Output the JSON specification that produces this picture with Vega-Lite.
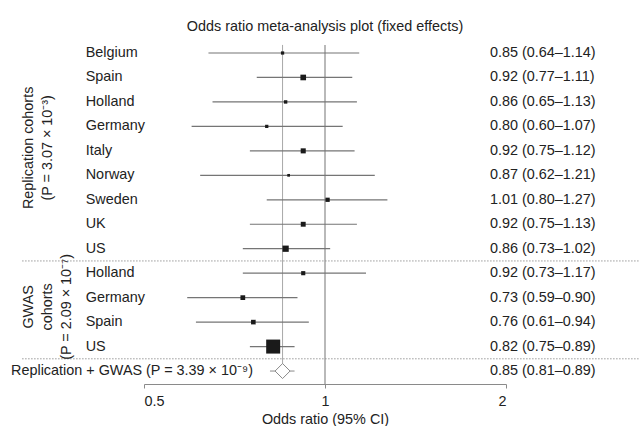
{
  "$schema": "https://vega.github.io/schema/vega-lite/v6.json",
  "autosize": "none",
  "width": 362,
  "height": 344,
  "padding": {"left": 144, "top": 40, "right": 133, "bottom": 42},
  "background": "white",
  "title": {"text": "Odds ratio meta-analysis plot (fixed effects)", "fontSize": 14.4, "fontWeight": "normal", "font": "Liberation Sans", "color": "#222", "offset": 6, "frame": "group", "anchor": "middle"},
  "datasets": {
    "studies": [
      {"row": 1, "group": "rep", "label": "Belgium", "or": 0.85, "lo": 0.64, "hi": 1.14, "weight": 46, "ci": "0.85 (0.64–1.14)"},
      {"row": 2, "group": "rep", "label": "Spain", "or": 0.92, "lo": 0.77, "hi": 1.11, "weight": 115, "ci": "0.92 (0.77–1.11)"},
      {"row": 3, "group": "rep", "label": "Holland", "or": 0.86, "lo": 0.65, "hi": 1.13, "weight": 50, "ci": "0.86 (0.65–1.13)"},
      {"row": 4, "group": "rep", "label": "Germany", "or": 0.80, "lo": 0.60, "hi": 1.07, "weight": 46, "ci": "0.80 (0.60–1.07)"},
      {"row": 5, "group": "rep", "label": "Italy", "or": 0.92, "lo": 0.75, "hi": 1.12, "weight": 96, "ci": "0.92 (0.75–1.12)"},
      {"row": 6, "group": "rep", "label": "Norway", "or": 0.87, "lo": 0.62, "hi": 1.21, "weight": 34, "ci": "0.87 (0.62–1.21)"},
      {"row": 7, "group": "rep", "label": "Sweden", "or": 1.01, "lo": 0.80, "hi": 1.27, "weight": 72, "ci": "1.01 (0.80–1.27)"},
      {"row": 8, "group": "rep", "label": "UK", "or": 0.92, "lo": 0.75, "hi": 1.13, "weight": 91, "ci": "0.92 (0.75–1.13)"},
      {"row": 9, "group": "rep", "label": "US", "or": 0.86, "lo": 0.73, "hi": 1.02, "weight": 137, "ci": "0.86 (0.73–1.02)"},
      {"row": 10, "group": "gwas", "label": "Holland", "or": 0.92, "lo": 0.73, "hi": 1.17, "weight": 69, "ci": "0.92 (0.73–1.17)"},
      {"row": 11, "group": "gwas", "label": "Germany", "or": 0.73, "lo": 0.59, "hi": 0.90, "weight": 86, "ci": "0.73 (0.59–0.90)"},
      {"row": 12, "group": "gwas", "label": "Spain", "or": 0.76, "lo": 0.61, "hi": 0.94, "weight": 82, "ci": "0.76 (0.61–0.94)"},
      {"row": 13, "group": "gwas", "label": "US", "or": 0.82, "lo": 0.75, "hi": 0.89, "weight": 524, "ci": "0.82 (0.75–0.89)"}
    ],
    "summary": [
      {"row": 14, "label": "Replication + GWAS (P = 3.39 × 10⁻⁹)", "or": 0.85, "lo": 0.81, "hi": 0.89, "ci": "0.85 (0.81–0.89)"}
    ],
    "groups": [
      {"group": "rep", "title": "Replication cohorts\n(P = 3.07 × 10⁻³)"},
      {"group": "gwas", "title": "GWAS\ncohorts\n(P = 2.09 × 10⁻⁷)"}
    ],
    "separators": [{"between": 9.5}, {"between": 13.5}]
  },
  "layer": [
    {
      "data": {"name": "separators"},
      "mark": {"type": "rule", "color": "#9a9a9a", "strokeWidth": 1, "strokeDash": [1.5, 1.5]},
      "encoding": {
        "y": {"field": "between", "type": "quantitative", "scale": {"domain": [0.4685, 14.53], "reverse": true, "nice": false, "zero": false}},
        "x": {"datum": 0.3135, "type": "quantitative"},
        "x2": {"datum": 3.33}
      }
    },
    {
      "data": {"name": "summary"},
      "mark": {"type": "rule", "color": "#8a8a8a", "strokeWidth": 1.2},
      "encoding": {
        "x": {"datum": 1, "type": "quantitative"},
        "y": {"datum": 0.67, "type": "quantitative"},
        "y2": {"datum": 14.53}
      }
    },
    {
      "data": {"name": "summary"},
      "mark": {"type": "rule", "color": "#a8a8a8", "strokeWidth": 1},
      "encoding": {
        "x": {"field": "or", "type": "quantitative"},
        "y": {"field": "row", "type": "quantitative"},
        "y2": {"datum": 0.67}
      }
    },
    {
      "data": {"name": "studies"},
      "mark": {"type": "rule", "color": "#757575", "strokeWidth": 1.2},
      "encoding": {
        "x": {
          "field": "lo", "type": "quantitative",
          "scale": {"type": "log", "domain": [0.5, 2], "nice": false},
          "axis": {
            "values": [0.5, 1, 2], "format": "~g", "tickSize": 4, "domainColor": "#8a8a8a", "tickColor": "#8a8a8a",
            "labelFontSize": 14.4, "labelFont": "Liberation Sans", "labelColor": "#222", "labelPadding": 6,
            "title": "Odds ratio (95% CI)", "titleFontSize": 14.4, "titleFont": "Liberation Sans", "titleFontWeight": "normal",
            "titleColor": "#222", "titlePadding": 5, "grid": false
          }
        },
        "x2": {"field": "hi"},
        "y": {"field": "row", "type": "quantitative"}
      }
    },
    {
      "data": {"name": "summary"},
      "mark": {"type": "rule", "color": "#8a8a8a", "strokeWidth": 1},
      "encoding": {
        "x": {"field": "lo", "type": "quantitative"},
        "x2": {"field": "hi"},
        "y": {"field": "row", "type": "quantitative"}
      }
    },
    {
      "data": {"name": "studies"},
      "mark": {"type": "point", "shape": "square", "filled": true, "color": "#1a1a1a", "opacity": 1},
      "encoding": {
        "x": {"field": "or", "type": "quantitative"},
        "y": {"field": "row", "type": "quantitative"},
        "size": {"field": "weight", "type": "quantitative", "scale": {"type": "pow", "exponent": 1.2, "domain": [0, 524], "range": [0, 196]}, "legend": null}
      }
    },
    {
      "data": {"name": "summary"},
      "mark": {"type": "point", "shape": "diamond", "filled": true, "fill": "white", "stroke": "#8a8a8a", "strokeWidth": 1, "size": 225, "opacity": 1},
      "encoding": {
        "x": {"field": "or", "type": "quantitative"},
        "y": {"field": "row", "type": "quantitative"}
      }
    },
    {
      "data": {"name": "studies"},
      "mark": {"type": "text", "align": "left", "baseline": "middle", "font": "Liberation Sans", "fontSize": 14.4, "color": "#222"},
      "encoding": {
        "x": {"datum": 0.4, "type": "quantitative"},
        "y": {"field": "row", "type": "quantitative"},
        "text": {"field": "label"}
      }
    },
    {
      "data": {"name": "studies"},
      "mark": {"type": "text", "align": "left", "baseline": "middle", "font": "Liberation Sans", "fontSize": 14.4, "color": "#222"},
      "encoding": {
        "x": {"datum": 1.881, "type": "quantitative"},
        "y": {"field": "row", "type": "quantitative"},
        "text": {"field": "ci"}
      }
    },
    {
      "data": {"name": "summary"},
      "mark": {"type": "text", "align": "left", "baseline": "middle", "font": "Liberation Sans", "fontSize": 14.4, "color": "#222"},
      "encoding": {
        "x": {"datum": 1.881, "type": "quantitative"},
        "y": {"field": "row", "type": "quantitative"},
        "text": {"field": "ci"}
      }
    },
    {
      "data": {"name": "summary"},
      "mark": {"type": "text", "align": "left", "baseline": "middle", "font": "Liberation Sans", "fontSize": 14.4, "color": "#222"},
      "encoding": {
        "x": {"datum": 0.3005, "type": "quantitative"},
        "y": {"field": "row", "type": "quantitative"},
        "text": {"field": "label"}
      }
    },
    {
      "data": {"name": "studies"},
      "transform": [
        {"aggregate": [{"op": "mean", "field": "row", "as": "mid"}], "groupby": ["group"]},
        {"lookup": "group", "from": {"data": {"name": "groups"}, "key": "group", "fields": ["title"]}}
      ],
      "mark": {"type": "text", "angle": 270, "align": "center", "baseline": "top", "dx": 3, "lineBreak": "\n", "lineHeight": 19, "font": "Liberation Sans", "fontSize": 14.4, "color": "#222"},
      "encoding": {
        "x": {"datum": 0.3135, "type": "quantitative"},
        "y": {"field": "mid", "type": "quantitative"},
        "text": {"field": "title"}
      }
    }
  ],
  "config": {
    "view": {"stroke": null},
    "axisY": {"disable": true}
  }
}
